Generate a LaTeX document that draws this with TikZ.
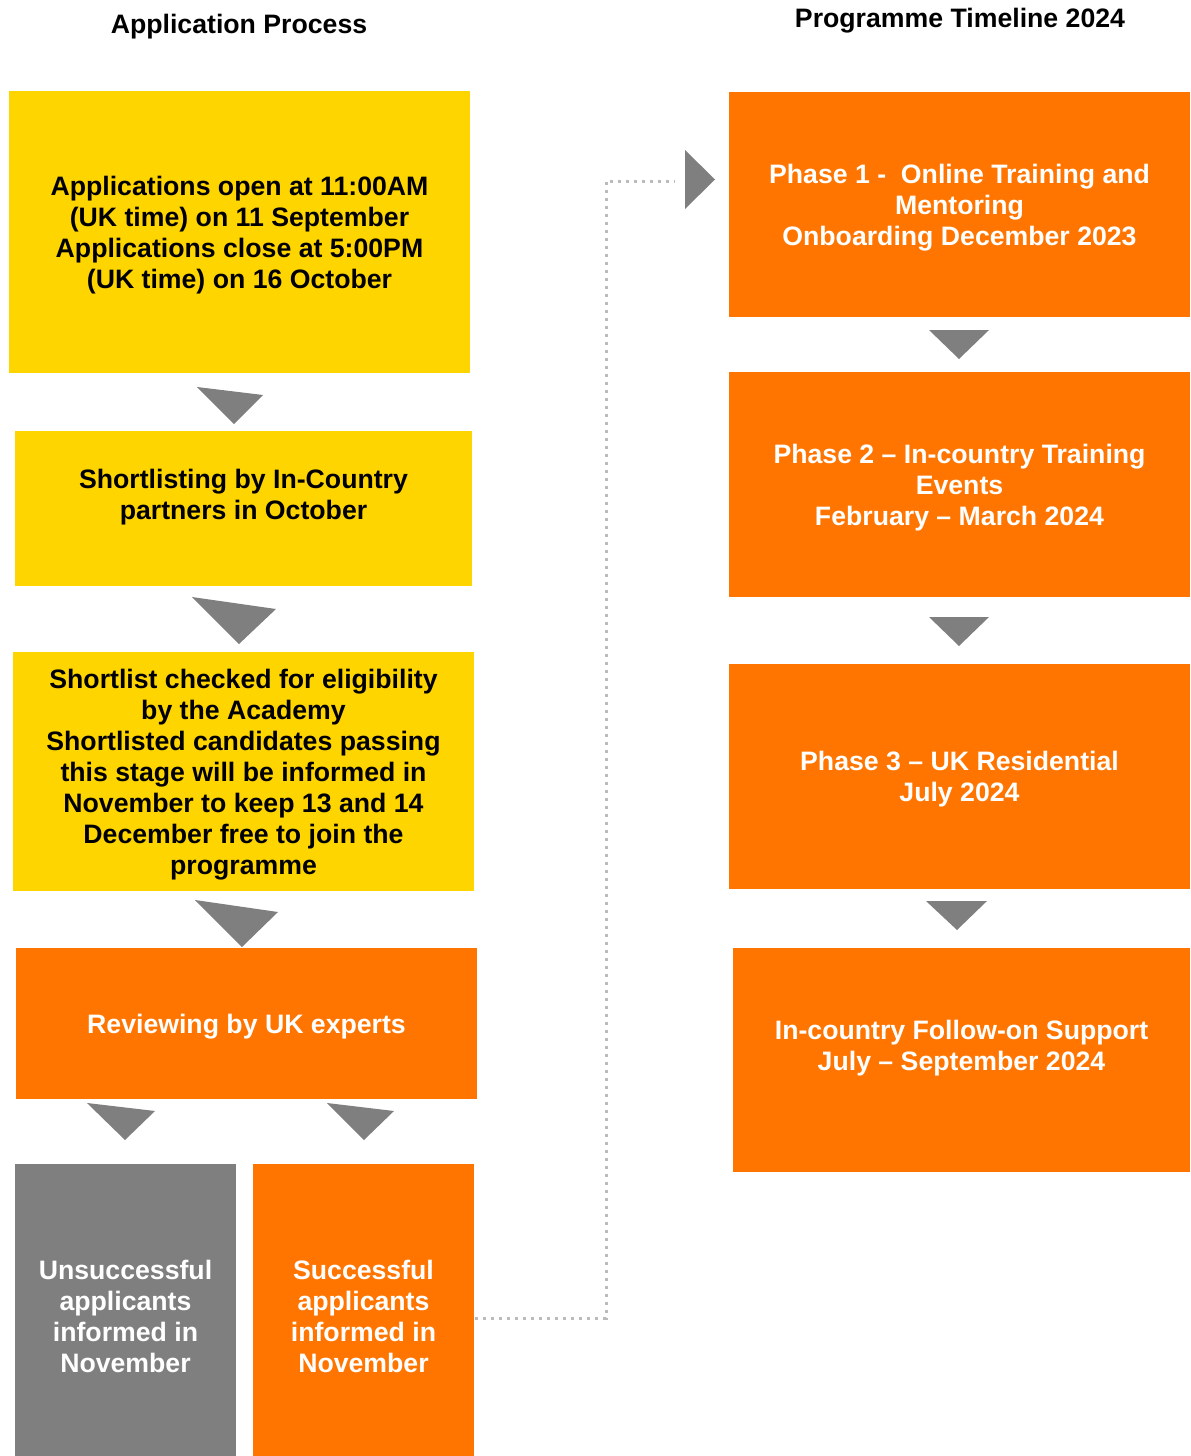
\documentclass[tikz,border=0pt]{standalone}
\usepackage{fontspec}
\setmainfont{Liberation Sans}
\usetikzlibrary{calc}
\definecolor{cyel}{HTML}{FFD500}
\definecolor{corg}{HTML}{FF7500}
\definecolor{cgry}{HTML}{7F7F7F}
\definecolor{cdot}{HTML}{BBBBBB}
\begin{document}
\begin{tikzpicture}[x=0.75pt,y=-0.75pt,
  box/.style={rectangle, draw=none, inner sep=0pt},
  ybox/.style={box, fill=cyel},
  obox/.style={box, fill=corg},
  gbox/.style={box, fill=cgry},
  lbl/.style={align=center, inner sep=0pt, yshift=-2.25pt, font=\bfseries\fontsize{20}{23.25}\selectfont},
  dlbl/.style={lbl, text=black},
  wlbl/.style={lbl, text=white},
  tri/.style={fill=cgry, draw=none},
  conn/.style={draw=cdot, line width=2.25pt, dash pattern=on 2.25pt off 3.75pt}
]
\useasboundingbox (0,0) rectangle (1190,1456);

% titles
\node[dlbl] (title1) at (239,24) {Application Process};
\node[dlbl] (title2) at (960,18) {Programme Timeline 2024};

% left column boxes
\node[ybox, minimum width=345.75pt, minimum height=211.5pt] (y1) at (239.5,232) {};
\node[dlbl] (ty1) at (239.5,232) {Applications open at 11:00AM\\(UK time) on 11 September\\Applications close at 5:00PM\\(UK time) on 16 October};

\node[ybox, minimum width=342.75pt, minimum height=116.25pt] (y2) at (243.5,508.5) {};
\node[dlbl] (ty2) at (243.5,494) {Shortlisting by In-Country\\partners in October};

\node[ybox, minimum width=345.75pt, minimum height=179.25pt] (y3) at (243.5,771.5) {};
\node[dlbl] (ty3) at (243.5,772) {Shortlist checked for eligibility\\by the Academy\\Shortlisted candidates passing\\this stage will be informed in\\November to keep 13 and 14\\December free to join the\\programme};

\node[obox, minimum width=345.75pt, minimum height=113.25pt] (o4) at (246.5,1023.5) {};
\node[wlbl] (to4) at (246.5,1024) {Reviewing by UK experts};

\node[gbox, minimum width=165.75pt, minimum height=219pt] (g) at (125.5,1310) {};
\node[wlbl] (tg) at (125.5,1313) {Unsuccessful\\applicants\\informed in\\November};

\node[obox, minimum width=165.75pt, minimum height=219pt] (s) at (363.5,1310) {};
\node[wlbl] (ts) at (363.5,1313) {Successful\\applicants\\informed in\\November};

% right column boxes
\node[obox, minimum width=345.75pt, minimum height=168.75pt] (r1) at (959.5,204.5) {};
\node[wlbl] (tr1) at (959.5,205) {Phase 1 -\ \ Online Training and\\Mentoring\\Onboarding December 2023};

\node[obox, minimum width=345.75pt, minimum height=168.75pt] (r2) at (959.5,484.5) {};
\node[wlbl] (tr2) at (959.5,485) {Phase 2 – In-country Training\\Events\\February – March 2024};

\node[obox, minimum width=345.75pt, minimum height=168.75pt] (r3) at (959.5,776.5) {};
\node[wlbl] (tr3) at (959.5,776.5) {Phase 3 – UK Residential\\July 2024};

\node[obox, minimum width=342.75pt, minimum height=168pt] (r4) at (961.5,1060) {};
\node[wlbl] (tr4) at (961.5,1045) {In-country Follow-on Support\\July – September 2024};

% triangle arrows, left
\fill[tri] (197,387) -- (263,395) -- (234,424) -- cycle;
\fill[tri] (192,597) -- (276,609) -- (239,644) -- cycle;
\fill[tri] (195,900) -- (278,912) -- (242,947) -- cycle;
\fill[tri] (87,1103) -- (155,1111) -- (125,1140) -- cycle;
\fill[tri] (327,1103) -- (394,1111) -- (364,1140) -- cycle;
% triangle arrows, right
\fill[tri] (929,330) -- (989,330) -- (959,359) -- cycle;
\fill[tri] (929,617) -- (989,617) -- (959,646) -- cycle;
\fill[tri] (926,901) -- (987,901) -- (957,930) -- cycle;
\fill[tri] (685,150) -- (715,179.5) -- (685,209) -- cycle;

% dotted connector
\coordinate (aend) at (675,181);
\draw[conn] ($(s.east)+(1,8)$) -- (606,1318) -- (606,181) -- (aend);
\end{tikzpicture}
\end{document}
